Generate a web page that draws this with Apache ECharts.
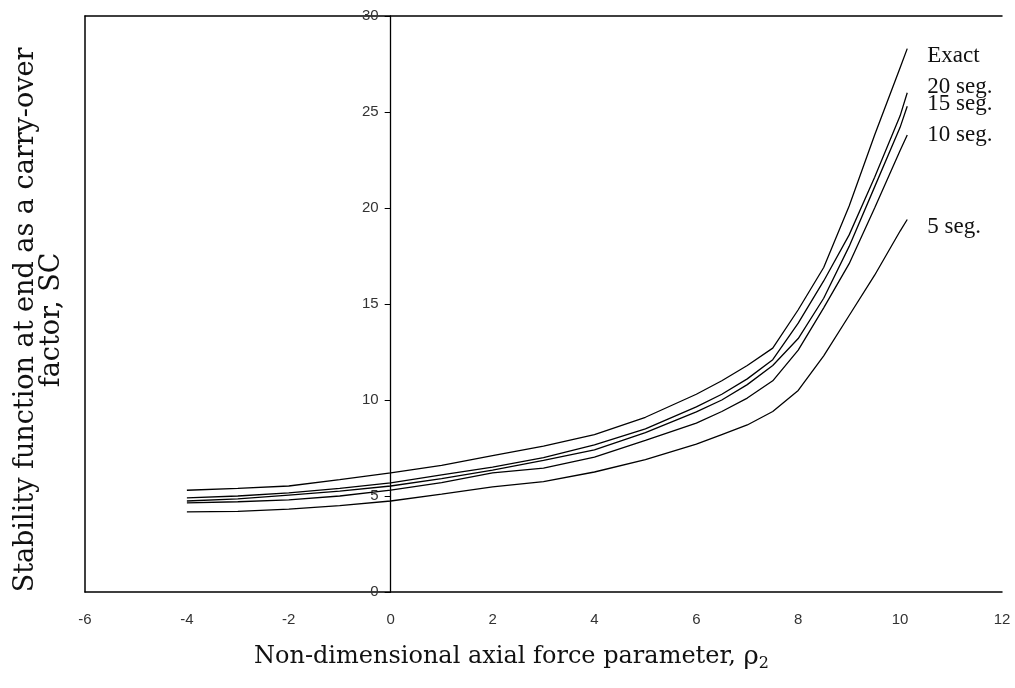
<!DOCTYPE html>
<html>
<head>
<meta charset="utf-8">
<script src="https://cdn.jsdelivr.net/npm/echarts@6/dist/echarts.min.js"></script>
<style>
  html, body { margin: 0; padding: 0; background: #fff; }
  #chart { width: 1015px; height: 688px; }
</style>
</head>
<body>
<div id="chart"></div>
<script>
// sample points along the force parameter axis
var rho = [-4, -3, -2, -1, 0, 1, 2, 3, 4, 5, 6, 6.5, 7, 7.5, 8, 8.5, 9, 9.5, 10, 10.14];

var exact = [5.3, 5.4, 5.52, 5.85, 6.2, 6.6, 7.1, 7.6, 8.2, 9.1, 10.3, 11.0, 11.8, 12.7, 14.7, 16.9, 20.1, 23.8, 27.3, 28.3];
var seg20 = [4.9, 5.0, 5.16, 5.4, 5.68, 6.1, 6.5, 7.0, 7.66, 8.5, 9.64, 10.3, 11.1, 12.1, 14.0, 16.2, 18.6, 21.6, 24.8, 26.0];
var seg15 = [4.74, 4.85, 5.05, 5.25, 5.52, 5.9, 6.35, 6.85, 7.4, 8.3, 9.38, 10.0, 10.8, 11.8, 13.2, 15.3, 18.0, 21.1, 24.2, 25.3];
var seg10 = [4.64, 4.7, 4.8, 5.0, 5.31, 5.7, 6.2, 6.45, 7.03, 7.9, 8.8, 9.4, 10.1, 11.0, 12.6, 14.8, 17.1, 20.0, 23.0, 23.8];
var seg5 = [4.17, 4.2, 4.32, 4.5, 4.74, 5.1, 5.47, 5.75, 6.25, 6.9, 7.7, 8.2, 8.7, 9.4, 10.5, 12.3, 14.4, 16.5, 18.8, 19.4];

var seriesNames = ['Exact', '20 seg.', '15 seg.', '10 seg.', '5 seg.'];
var seriesValues = [exact, seg20, seg15, seg10, seg5];
var labelShift = [7, -6, -2, 0, 7];

var xTicks = [-6, -4, -2, 0, 2, 4, 6, 8, 10, 12];

function pairs(ys) {
    return rho.map(function (x, i) { return [x, ys[i]]; });
}

var chart = echarts.init(document.getElementById('chart'));

var serif = 'DejaVu Serif';
var gridLeft = 85, gridRight = 13;
var plotW = 1015 - gridLeft - gridRight;
var xMin = xTicks[0], xMax = xTicks[xTicks.length - 1];
// put the value axis where x = 0, labels and ticks included
var zeroOffset = -plotW * (0 - xMin) / (xMax - xMin);

var option = {
    backgroundColor: '#fff',
    animation: false,
    grid: { left: gridLeft, right: gridRight, top: 16, bottom: 96, containLabel: false },
    xAxis: [
        {
            type: 'value',
            min: xMin,
            max: xMax,
            interval: 2,
            position: 'bottom',
            axisLine: { onZero: false, lineStyle: { color: '#000', width: 1.5 } },
            axisTick: { show: false },
            splitLine: { show: false },
            axisLabel: { color: '#333', fontSize: 15, fontFamily: 'Liberation Sans', margin: 20 },
            name: '{a|Non-dimensional axial force parameter, }{r|ρ}{s|2}',
            nameLocation: 'middle',
            nameGap: 50,
            nameTextStyle: {
                padding: [0, 64, 0, 0],
                rich: {
                    a: { fontFamily: serif, fontSize: 24, color: '#111' },
                    r: { fontFamily: serif, fontSize: 26, color: '#111' },
                    s: { fontFamily: serif, fontSize: 16, color: '#111', padding: [14, 0, 0, 0] }
                }
            }
        },
        {
            type: 'value',
            min: xMin,
            max: xMax,
            position: 'top',
            axisLine: { onZero: false, lineStyle: { color: '#000', width: 1.5 } },
            axisTick: { show: false },
            axisLabel: { show: false },
            splitLine: { show: false }
        }
    ],
    yAxis: [
        {
            type: 'value',
            min: 0,
            max: 30,
            interval: 5,
            position: 'left',
            offset: zeroOffset,
            axisLine: { onZero: false, lineStyle: { color: '#000', width: 1.3 } },
            axisTick: { show: true, length: 6, lineStyle: { color: '#000' } },
            splitLine: { show: false },
            axisLabel: { color: '#333', fontSize: 15, fontFamily: 'Liberation Sans', margin: 12 }
        },
        {
            type: 'value',
            min: 0,
            max: 30,
            position: 'left',
            axisLine: { show: true, onZero: false, lineStyle: { color: '#000', width: 1.5 } },
            axisTick: { show: false },
            axisLabel: { show: false },
            splitLine: { show: false },
            name: 'Stability function at end as a carry-over\nfactor, SC',
            nameLocation: 'middle',
            nameRotate: 90,
            nameGap: 20,
            nameTextStyle: {
                fontFamily: serif,
                fontSize: 27,
                lineHeight: 26,
                color: '#111',
                padding: [0, 32, 0, 0]
            }
        }
    ],
    series: seriesNames.map(function (name, i) {
        return {
            name: name,
            type: 'line',
            xAxisIndex: 0,
            yAxisIndex: 0,
            data: pairs(seriesValues[i]),
            showSymbol: false,
            symbol: 'none',
            smooth: false,
            lineStyle: { color: '#000', width: 1.3 },
            endLabel: {
                show: true,
                formatter: name,
                distance: 20,
                offset: [0, labelShift[i]],
                fontFamily: 'Liberation Serif',
                fontSize: 23,
                color: '#111'
            }
        };
    })
};

chart.setOption(option);
</script>
</body>
</html>
